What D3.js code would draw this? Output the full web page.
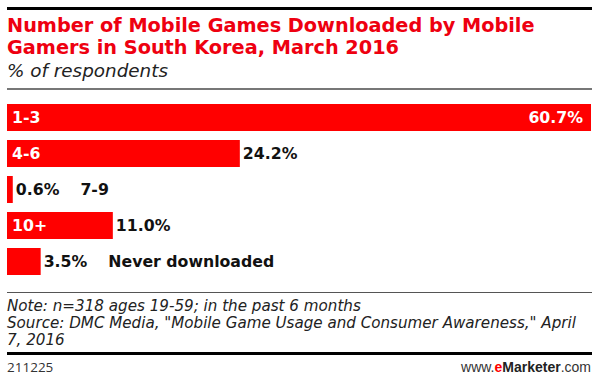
<!DOCTYPE html>
<html>
<head>
<meta charset="utf-8">
<script src="https://cdn.jsdelivr.net/npm/d3@7/dist/d3.min.js"></script>
<style>
  html, body { margin: 0; padding: 0; background: #fff; }
  svg { display: block; }
</style>
</head>
<body>
<svg id="chart" width="600" height="382"></svg>
<script>
// ---- data ----
const categories = ["1-3", "4-6", "7-9", "10+", "Never downloaded"];
const values = [60.7, 24.2, 0.6, 11.0, 3.5];
const valueLabels = ["60.7%", "24.2%", "0.6%", "11.0%", "3.5%"];
const titleLines = ["Number of Mobile Games Downloaded by Mobile", "Gamers in South Korea, March 2016"];
const subtitle = "% of respondents";
const noteLines = [
  "Note: n=318 ages 19-59; in the past 6 months",
  "Source: DMC Media, \"Mobile Game Usage and Consumer Awareness,\" April",
  "7, 2016"
];
const chartId = "211225";

// ---- drawing ----
const svg = d3.select("#chart");
const RED = "#ff0000";
const boldFont = "'DejaVu Sans', sans-serif";
const italicFont = "'DejaVu Sans', sans-serif";

function fitWidth(sel, target) {
  const fs = parseFloat(sel.attr("font-size"));
  const w = sel.node().getComputedTextLength();
  const nf = fs * target / w;
  sel.attr("font-size", nf.toFixed(2));
  return nf;
}

// top black rule
svg.append("rect").attr("x", 7).attr("y", 7).attr("width", 585).attr("height", 3).attr("fill", "#000");

// title
const t1 = svg.append("text").attr("x", 7).attr("y", 32)
  .attr("font-family", boldFont).attr("font-weight", "bold").attr("font-size", 18)
  .attr("fill", "#ee0010").text(titleLines[0]);
const tfs = fitWidth(t1, 528);
svg.append("text").attr("x", 7).attr("y", 54)
  .attr("font-family", boldFont).attr("font-weight", "bold").attr("font-size", tfs)
  .attr("fill", "#ee0010").text(titleLines[1]);

const st = svg.append("text").attr("x", 7).attr("y", 77)
  .attr("font-family", italicFont).attr("font-style", "italic").attr("font-size", 17)
  .attr("fill", "#222").text(subtitle);
fitWidth(st, 161);

// gray rule
svg.append("rect").attr("x", 7).attr("y", 88).attr("width", 585).attr("height", 2).attr("fill", "#777");

// scales
const x = d3.scaleLinear().domain([0, d3.max(values)]).range([7, 591]);
const y = d3.scaleBand().domain(categories).range([104, 275]).paddingInner(0.25).paddingOuter(0);

const data = categories.map((c, i) => ({ c, v: values[i], lab: valueLabels[i] }));
const maxV = d3.max(values);

// measure label size so "Never downloaded" matches reference width
const probe = svg.append("text").attr("font-family", boldFont).attr("font-weight", "bold")
  .attr("font-size", 17).text(categories[4]);
const labelSize = fitWidth(probe, 166);
probe.remove();

const g = svg.append("g");
g.selectAll("rect.bar").data(data).join("rect")
  .attr("class", "bar")
  .attr("x", x(0))
  .attr("y", d => y(d.c))
  .attr("width", d => x(d.v) - x(0))
  .attr("height", y.bandwidth())
  .attr("fill", RED);

data.forEach(d => {
  const cy = y(d.c) + y.bandwidth() / 2;
  const barW = x(d.v) - x(0);
  const inside = barW > 60;
  if (inside) {
    g.append("text").attr("x", x(0) + 5).attr("y", cy).attr("dy", "0.36em")
      .attr("font-family", boldFont).attr("font-weight", "bold").attr("font-size", labelSize)
      .attr("fill", "#fff").text(d.c);
  }
  let vt;
  if (d.v === maxV) {
    vt = g.append("text").attr("x", x(d.v) - 8).attr("y", cy).attr("dy", "0.36em")
      .attr("text-anchor", "end")
      .attr("font-family", boldFont).attr("font-weight", "bold").attr("font-size", labelSize)
      .attr("fill", "#fff").text(d.lab);
  } else {
    vt = g.append("text").attr("x", x(d.v) + 3).attr("y", cy).attr("dy", "0.36em")
      .attr("font-family", boldFont).attr("font-weight", "bold").attr("font-size", labelSize)
      .attr("fill", "#111").text(d.lab);
  }
  if (!inside) {
    const end = x(d.v) + 3 + vt.node().getComputedTextLength();
    g.append("text").attr("x", end + 21).attr("y", cy).attr("dy", "0.36em")
      .attr("font-family", boldFont).attr("font-weight", "bold").attr("font-size", labelSize)
      .attr("fill", "#111").text(d.c);
  }
});

// footer rule
svg.append("rect").attr("x", 7).attr("y", 292).attr("width", 585).attr("height", 1).attr("fill", "#555");

const n0 = svg.append("text").attr("x", 7).attr("y", 311)
  .attr("font-family", italicFont).attr("font-style", "italic").attr("font-size", 15)
  .attr("fill", "#222").text(noteLines[0]);
const nfs = fitWidth(n0, 354);
noteLines.slice(1).forEach((t, i) => {
  svg.append("text").attr("x", 7).attr("y", 328 + i * 17)
    .attr("font-family", italicFont).attr("font-style", "italic").attr("font-size", nfs)
    .attr("fill", "#222").text(t);
});

svg.append("rect").attr("x", 7).attr("y", 352).attr("width", 585).attr("height", 3).attr("fill", "#000");

svg.append("text").attr("x", 7).attr("y", 372)
  .attr("font-family", "'Open Sans', sans-serif").attr("font-size", 13.5)
  .attr("fill", "#333").text(chartId);

const em = svg.append("text").attr("x", 591).attr("y", 372).attr("text-anchor", "end")
  .attr("font-family", "'Liberation Sans', Arial, sans-serif").attr("font-size", 14).attr("fill", "#333");
em.append("tspan").text("www.");
em.append("tspan").attr("fill", RED).attr("font-weight", "bold").text("e");
em.append("tspan").attr("font-weight", "bold").attr("fill", "#222").text("Marketer");
em.append("tspan").text(".com");
</script>
</body>
</html>
